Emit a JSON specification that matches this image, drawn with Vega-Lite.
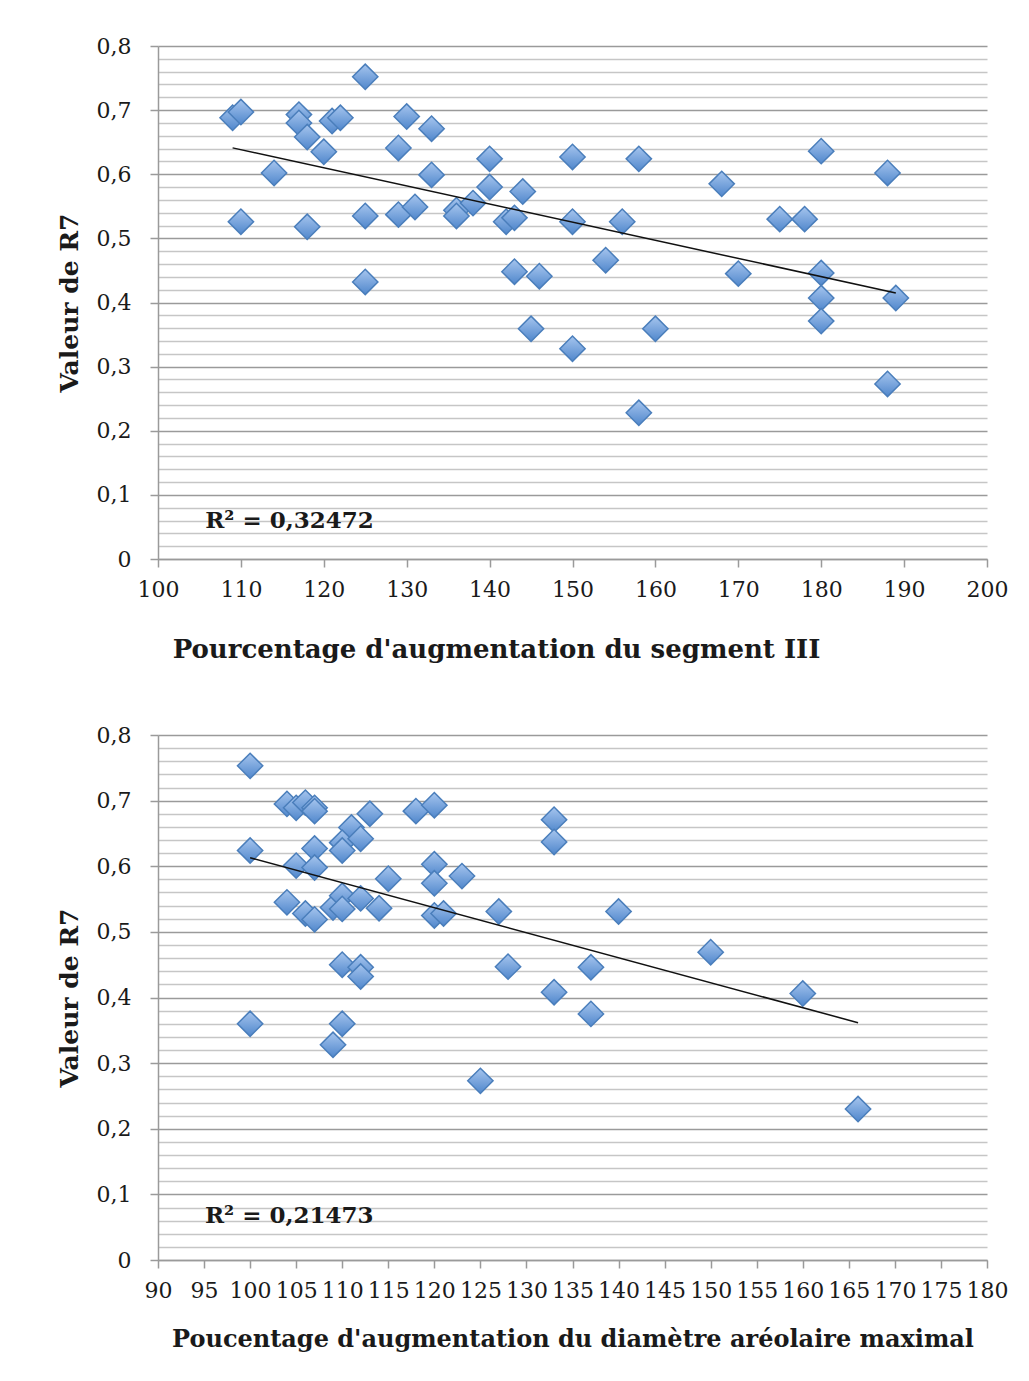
{
  "$schema": "https://vega.github.io/schema/vega-lite/v6.json",
  "background": "white",
  "padding": {"left": 57, "top": 35, "right": 5, "bottom": 5},
  "spacing": 62,
  "config": {
    "view": {"stroke": null},
    "font": "DejaVu Serif",
    "axis": {"labelFont": "DejaVu Serif", "titleFont": "DejaVu Serif", "labelFontSize": 22, "labelColor": "#1a1a1a", "titleColor": "#1a1a1a", "titleFontWeight": "bold", "titleFontSize": 25, "domainColor": "#9a9a9a", "tickColor": "#9a9a9a", "domainWidth": 1.5, "tickWidth": 1.5, "tickSize": 8, "labelOverlap": false, "labelFlush": false}
  },
  "datasets": {
    "top": [
      {"x": 109, "y": 0.688}, {"x": 110, "y": 0.697}, {"x": 110, "y": 0.526}, {"x": 114, "y": 0.602},
      {"x": 117, "y": 0.693}, {"x": 117, "y": 0.680}, {"x": 118, "y": 0.658}, {"x": 118, "y": 0.518},
      {"x": 120, "y": 0.635}, {"x": 121, "y": 0.683}, {"x": 122, "y": 0.688}, {"x": 125, "y": 0.752},
      {"x": 125, "y": 0.535}, {"x": 125, "y": 0.432}, {"x": 129, "y": 0.641}, {"x": 129, "y": 0.537},
      {"x": 130, "y": 0.690}, {"x": 131, "y": 0.549}, {"x": 133, "y": 0.671}, {"x": 133, "y": 0.599},
      {"x": 136, "y": 0.544}, {"x": 136, "y": 0.535}, {"x": 138, "y": 0.555}, {"x": 140, "y": 0.624},
      {"x": 140, "y": 0.580}, {"x": 142, "y": 0.526}, {"x": 143, "y": 0.532}, {"x": 143, "y": 0.448},
      {"x": 144, "y": 0.573}, {"x": 146, "y": 0.441}, {"x": 145, "y": 0.359}, {"x": 150, "y": 0.627},
      {"x": 150, "y": 0.526}, {"x": 150, "y": 0.328}, {"x": 154, "y": 0.466}, {"x": 156, "y": 0.526},
      {"x": 158, "y": 0.624}, {"x": 158, "y": 0.228}, {"x": 160, "y": 0.359}, {"x": 168, "y": 0.585},
      {"x": 170, "y": 0.445}, {"x": 175, "y": 0.530}, {"x": 178, "y": 0.530}, {"x": 180, "y": 0.636},
      {"x": 180, "y": 0.446}, {"x": 180, "y": 0.407}, {"x": 180, "y": 0.371}, {"x": 188, "y": 0.602},
      {"x": 188, "y": 0.273}, {"x": 189, "y": 0.407}
    ],
    "bottom": [
      {"x": 100, "y": 0.753}, {"x": 100, "y": 0.624}, {"x": 100, "y": 0.360}, {"x": 104, "y": 0.695},
      {"x": 105, "y": 0.689}, {"x": 106, "y": 0.697}, {"x": 107, "y": 0.689}, {"x": 107, "y": 0.684},
      {"x": 113, "y": 0.680}, {"x": 118, "y": 0.684}, {"x": 120, "y": 0.693}, {"x": 111, "y": 0.659},
      {"x": 110, "y": 0.636}, {"x": 110, "y": 0.624}, {"x": 112, "y": 0.642}, {"x": 107, "y": 0.627},
      {"x": 105, "y": 0.601}, {"x": 107, "y": 0.598}, {"x": 115, "y": 0.581}, {"x": 120, "y": 0.603},
      {"x": 120, "y": 0.574}, {"x": 123, "y": 0.585}, {"x": 133, "y": 0.671}, {"x": 133, "y": 0.637},
      {"x": 104, "y": 0.545}, {"x": 106, "y": 0.528}, {"x": 107, "y": 0.519}, {"x": 109, "y": 0.537},
      {"x": 110, "y": 0.555}, {"x": 110, "y": 0.535}, {"x": 112, "y": 0.551}, {"x": 114, "y": 0.536},
      {"x": 120, "y": 0.525}, {"x": 121, "y": 0.528}, {"x": 127, "y": 0.531}, {"x": 110, "y": 0.450},
      {"x": 112, "y": 0.446}, {"x": 112, "y": 0.432}, {"x": 128, "y": 0.447}, {"x": 133, "y": 0.408},
      {"x": 137, "y": 0.446}, {"x": 140, "y": 0.531}, {"x": 150, "y": 0.469}, {"x": 160, "y": 0.406},
      {"x": 137, "y": 0.375}, {"x": 110, "y": 0.360}, {"x": 109, "y": 0.328}, {"x": 125, "y": 0.273},
      {"x": 166, "y": 0.230}
    ]
  },
  "vconcat": [
    {
      "width": 829,
      "height": 513,
      "resolve": {"axis": {"y": "independent"}},
      "layer": [
        {
          "data": {"name": "top"},
          "mark": {"type": "point", "shape": "diamond", "filled": true, "size": 640, "opacity": 1,
            "fill": {"gradient": "linear", "x1": 0, "y1": 0, "x2": 0, "y2": 1, "stops": [{"offset": 0, "color": "#a6c5ee"}, {"offset": 1, "color": "#5087cc"}]},
            "stroke": "#4a7ebb", "strokeWidth": 1.5},
          "encoding": {
            "x": {"field": "x", "type": "quantitative", "scale": {"domain": [100, 200], "nice": false},
              "axis": {"values": [100, 110, 120, 130, 140, 150, 160, 170, 180, 190, 200], "grid": false, "labelPadding": 12, "titlePadding": 36, "titleFontSize": 26, "titleX": 338, "title": "Pourcentage d'augmentation du segment III"}},
            "y": {"field": "y", "type": "quantitative", "scale": {"domain": [0, 0.8], "nice": false},
              "axis": {"orient": "left", "values": [0, 0.1, 0.2, 0.3, 0.4, 0.5, 0.6, 0.7, 0.8], "grid": true, "gridColor": "#9a9a9a", "gridWidth": 1.5, "labelPadding": 19, "titlePadding": 14, "title": "Valeur de R7",
                "labelExpr": "datum.value == 0 ? '0' : replace(format(datum.value, '.1f'), '.', ',')"}}
          }
        },
        {
          "data": {"name": "top"},
          "transform": [{"regression": "y", "on": "x", "extent": [109, 189]}],
          "mark": {"type": "line", "color": "#111111", "strokeWidth": 1.5},
          "encoding": {
            "x": {"field": "x", "type": "quantitative"},
            "y": {"field": "y", "type": "quantitative",
              "axis": {"orient": "right", "values": [0.02, 0.04, 0.06, 0.08, 0.12, 0.14, 0.16, 0.18, 0.22, 0.24, 0.26, 0.28, 0.32, 0.34, 0.36, 0.38, 0.42, 0.44, 0.46, 0.48, 0.52, 0.54, 0.56, 0.58, 0.62, 0.64, 0.66, 0.68, 0.72, 0.74, 0.76, 0.78], "grid": true, "gridColor": "#c6c6c6", "gridWidth": 1.5, "labels": false, "ticks": false, "domain": false, "title": null}}
          }
        },
        {
          "data": {"values": [{"label": "R² = 0,32472"}]},
          "mark": {"type": "text", "align": "left", "baseline": "middle", "font": "DejaVu Serif", "fontWeight": "bold", "fontSize": 23, "color": "#1a1a1a"},
          "encoding": {
            "text": {"field": "label"},
            "x": {"datum": 105.7, "type": "quantitative"},
            "y": {"datum": 0.059, "type": "quantitative", "axis": null}
          }
        }
      ]
    },
    {
      "width": 829,
      "height": 525,
      "resolve": {"axis": {"y": "independent"}},
      "layer": [
        {
          "data": {"name": "bottom"},
          "mark": {"type": "point", "shape": "diamond", "filled": true, "size": 640, "opacity": 1,
            "fill": {"gradient": "linear", "x1": 0, "y1": 0, "x2": 0, "y2": 1, "stops": [{"offset": 0, "color": "#a6c5ee"}, {"offset": 1, "color": "#5087cc"}]},
            "stroke": "#4a7ebb", "strokeWidth": 1.5},
          "encoding": {
            "x": {"field": "x", "type": "quantitative", "scale": {"domain": [90, 180], "nice": false},
              "axis": {"values": [90, 95, 100, 105, 110, 115, 120, 125, 130, 135, 140, 145, 150, 155, 160, 165, 170, 175, 180], "grid": false, "labelPadding": 12, "titlePadding": 26, "titleFontSize": 24, "title": "Poucentage d'augmentation du diamètre aréolaire maximal"}},
            "y": {"field": "y", "type": "quantitative", "scale": {"domain": [0, 0.8], "nice": false},
              "axis": {"orient": "left", "values": [0, 0.1, 0.2, 0.3, 0.4, 0.5, 0.6, 0.7, 0.8], "grid": true, "gridColor": "#9a9a9a", "gridWidth": 1.5, "labelPadding": 19, "titlePadding": 14, "title": "Valeur de R7",
                "labelExpr": "datum.value == 0 ? '0' : replace(format(datum.value, '.1f'), '.', ',')"}}
          }
        },
        {
          "data": {"name": "bottom"},
          "transform": [{"regression": "y", "on": "x", "extent": [100, 166]}],
          "mark": {"type": "line", "color": "#111111", "strokeWidth": 1.5},
          "encoding": {
            "x": {"field": "x", "type": "quantitative"},
            "y": {"field": "y", "type": "quantitative",
              "axis": {"orient": "right", "values": [0.02, 0.04, 0.06, 0.08, 0.12, 0.14, 0.16, 0.18, 0.22, 0.24, 0.26, 0.28, 0.32, 0.34, 0.36, 0.38, 0.42, 0.44, 0.46, 0.48, 0.52, 0.54, 0.56, 0.58, 0.62, 0.64, 0.66, 0.68, 0.72, 0.74, 0.76, 0.78], "grid": true, "gridColor": "#c6c6c6", "gridWidth": 1.5, "labels": false, "ticks": false, "domain": false, "title": null}}
          }
        },
        {
          "data": {"values": [{"label": "R² = 0,21473"}]},
          "mark": {"type": "text", "align": "left", "baseline": "middle", "font": "DejaVu Serif", "fontWeight": "bold", "fontSize": 23, "color": "#1a1a1a"},
          "encoding": {
            "text": {"field": "label"},
            "x": {"datum": 95.1, "type": "quantitative"},
            "y": {"datum": 0.067, "type": "quantitative", "axis": null}
          }
        }
      ]
    }
  ]
}
